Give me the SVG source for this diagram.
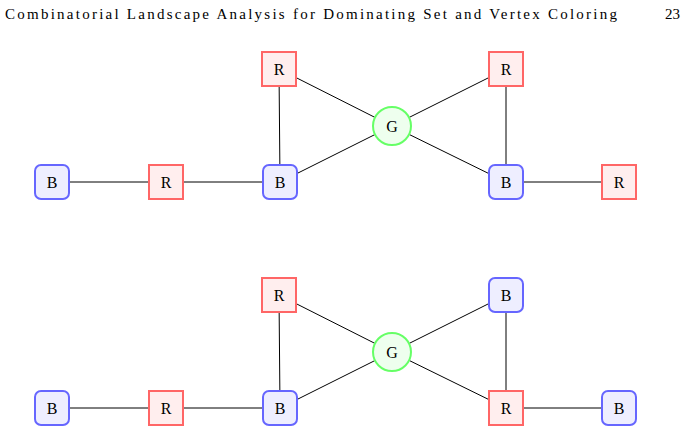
<svg xmlns="http://www.w3.org/2000/svg" width="687" height="434" viewBox="0 0 687 434">
<style>
text{font-family:"Liberation Serif",serif;font-size:15px;fill:#000}
.l{text-anchor:middle;dominant-baseline:central;font-size:16px}
.r{fill:#ffeeee;stroke:#ff6666;stroke-width:2}
.b{fill:#eeeeff;stroke:#6666ff;stroke-width:2}
.g{fill:#eeffee;stroke:#66ff66;stroke-width:2}
#edges line{stroke:#000;stroke-width:1}
</style>
<rect width="687" height="434" fill="#fff"/>
<text x="5" y="19" textLength="612" lengthAdjust="spacing">Combinatorial Landscape Analysis for Dominating Set and Vertex Coloring</text>
<text x="665" y="19">23</text>
<g id="edges">
<line x1="52" y1="182" x2="166" y2="182"/><line x1="166" y1="182" x2="280" y2="182"/>
<line x1="280" y1="182" x2="279" y2="69"/><line x1="280" y1="182" x2="392" y2="126"/>
<line x1="279" y1="69" x2="392" y2="126"/><line x1="392" y1="126" x2="506" y2="69"/>
<line x1="392" y1="126" x2="506" y2="182"/><line x1="506" y1="69" x2="506" y2="182"/>
<line x1="506" y1="182" x2="619" y2="182"/>
<line x1="52" y1="408" x2="166" y2="408"/><line x1="166" y1="408" x2="280" y2="408"/>
<line x1="280" y1="408" x2="279" y2="295"/><line x1="280" y1="408" x2="392" y2="352"/>
<line x1="279" y1="295" x2="392" y2="352"/><line x1="392" y1="352" x2="506" y2="295"/>
<line x1="392" y1="352" x2="506" y2="408"/><line x1="506" y1="295" x2="506" y2="408"/>
<line x1="506" y1="408" x2="619" y2="408"/>
</g>
<g id="t1"><rect class="b" x="35" y="165" width="34" height="34" rx="6"/><text class="l" x="52" y="182">B</text></g>
<g id="t2"><rect class="r" x="149" y="165" width="34" height="34"/><text class="l" x="166" y="182">R</text></g>
<g id="t3"><rect class="b" x="263" y="165" width="34" height="34" rx="6"/><text class="l" x="280" y="182">B</text></g>
<g id="t4"><rect class="r" x="262" y="52" width="34" height="34"/><text class="l" x="279" y="69">R</text></g>
<g id="t5"><circle class="g" cx="392" cy="126" r="19"/><text class="l" x="392" y="126">G</text></g>
<g id="t6"><rect class="r" x="489" y="52" width="34" height="34"/><text class="l" x="506" y="69">R</text></g>
<g id="t7"><rect class="b" x="489" y="165" width="34" height="34" rx="6"/><text class="l" x="506" y="182">B</text></g>
<g id="t8"><rect class="r" x="602" y="165" width="34" height="34"/><text class="l" x="619" y="182">R</text></g>
<g id="u1"><rect class="b" x="35" y="391" width="34" height="34" rx="6"/><text class="l" x="52" y="408">B</text></g>
<g id="u2"><rect class="r" x="149" y="391" width="34" height="34"/><text class="l" x="166" y="408">R</text></g>
<g id="u3"><rect class="b" x="263" y="391" width="34" height="34" rx="6"/><text class="l" x="280" y="408">B</text></g>
<g id="u4"><rect class="r" x="262" y="278" width="34" height="34"/><text class="l" x="279" y="295">R</text></g>
<g id="u5"><circle class="g" cx="392" cy="352" r="19"/><text class="l" x="392" y="352">G</text></g>
<g id="u6"><rect class="b" x="489" y="278" width="34" height="34" rx="6"/><text class="l" x="506" y="295">B</text></g>
<g id="u7"><rect class="r" x="489" y="391" width="34" height="34"/><text class="l" x="506" y="408">R</text></g>
<g id="u8"><rect class="b" x="602" y="391" width="34" height="34" rx="6"/><text class="l" x="619" y="408">B</text></g>
</svg>
